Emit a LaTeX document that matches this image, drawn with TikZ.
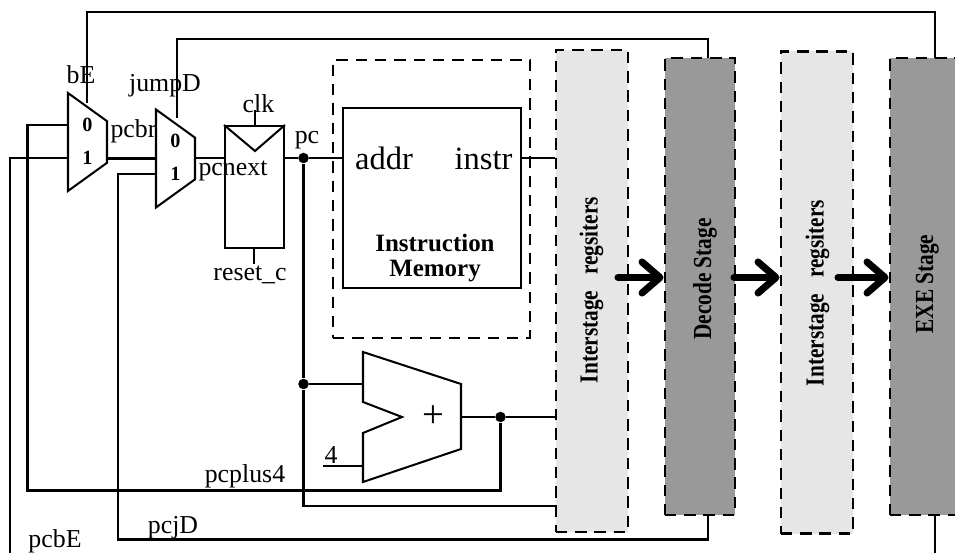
\documentclass[tikz,border=0pt]{standalone}
\usepackage{fontspec}
\setmainfont{Liberation Serif}
\usetikzlibrary{shapes.geometric,arrows.meta,calc}
\definecolor{softgrey}{RGB}{230,230,230}
\definecolor{darkgrey}{RGB}{153,153,153}
\newcommand{\stagelabel}[1]{\scalebox{0.82}[1]{#1}}
\tikzset{
    wire/.style={
        line width=1.15pt
    },
    mux/.style={
        draw,
        line width=1.15pt,
        trapezium,
        trapezium angle=63.4,
        trapezium stretches=true,
        rotate=-90,
        inner sep=0pt,
        outer sep=0pt,
        minimum width=1.96cm,
        minimum height=0.78cm
    },
    muxport/.style={
        font=\fontsize{11.5}{13}\selectfont\bfseries,
        inner sep=0pt
    },
    signal/.style={
        font=\fontsize{14.7}{17}\selectfont,
        inner sep=0pt
    },
    interstage/.style={
        draw,
        dashed,
        dash pattern=on 6.5pt off 4.5pt,
        line width=1.4pt,
        fill=softgrey,
        minimum width=1.45cm,
        minimum height=9.64cm,
        inner sep=0pt
    },
    stagebox/.style={
        draw,
        dashed,
        dash pattern=on 6.5pt off 4.5pt,
        line width=1.4pt,
        fill=darkgrey,
        minimum width=1.41cm,
        minimum height=9.14cm,
        inner sep=0pt
    },
    stagetext/.style={
        rotate=90,
        font=\fontsize{14.8}{17}\selectfont\bfseries,
        inner sep=0pt
    },
    junction/.style={
        circle,
        fill=black,
        inner sep=0pt,
        minimum size=0.21cm
    },
    bigarrow/.style={
        -{Straight Barb[round,length=0.36cm,width=0.62cm]},
        line width=4pt,
        line cap=round
    }
}

\begin{document}
\begin{tikzpicture}

\useasboundingbox (0,0) rectangle (19.1,-11.06);
\clip (0,0) rectangle (19.1,-11.06);

% ============================================================
% STAGE BOXES
% ============================================================

\node[interstage] (regone) at (11.84,-5.82) {};

\node[stagebox] (decode) at (14.0,-5.73) {};

\node[interstage] (regtwo) at (16.34,-5.85) {};

\node[stagebox] (exe) at (18.5,-5.73) {};

\node[stagetext] (regonetext) at (11.83,-5.8)
{\stagelabel{Interstage\ \ \ regsiters}};

\node[stagetext] (decodetext) at (14.1,-5.58)
{\stagelabel{Decode Stage}};

\node[stagetext] (regtwotext) at (16.35,-5.86)
{\stagelabel{Interstage\ \ \ regsiters}};

\node[stagetext] (exetext) at (18.55,-5.68)
{\stagelabel{EXE Stage}};

% ============================================================
% MUXES AND PC REGISTER
% ============================================================

\node[mux] (muxb) at (1.75,-2.84) {\phantom{0}};

\node[mux] (muxj) at (3.51,-3.17) {\phantom{0}};

\node[muxport] (muxbzero) at (1.75,-2.5) {0};
\node[muxport] (muxbone) at (1.75,-3.16) {1};
\node[muxport] (muxjzero) at (3.51,-2.82) {0};
\node[muxport] (muxjone) at (3.51,-3.48) {1};

\node[draw,wire,minimum width=1.18cm,minimum height=2.44cm,inner sep=0pt] (reg) at (5.09,-3.74) {};

\draw[wire] (reg.north west) -- (5.1,-3.02) -- (reg.north east);

% ============================================================
% INSTRUCTION MEMORY
% ============================================================

\node[draw,dashed,dash pattern=on 6.5pt off 4.5pt,line width=1.2pt,minimum width=3.94cm,minimum height=5.56cm] (imemouter) at (8.63,-3.98) {};

\node[draw,wire,minimum width=3.56cm,minimum height=3.6cm] (imem) at (8.64,-3.96) {};

\node[font=\fontsize{18.5}{21}\selectfont,inner sep=0pt] (addr) at (7.68,-3.17) {addr};

\node[font=\fontsize{18.5}{21}\selectfont,inner sep=0pt] (instr) at (9.67,-3.17) {instr};

\node[font=\fontsize{14.2}{14.2}\selectfont\bfseries,align=center,inner sep=0pt] (imemtext) at (8.7,-5.16)
{Instruction\\Memory};

% ============================================================
% ADDER
% ============================================================

\coordinate (addone) at (7.26,-7.04);
\coordinate (addtwo) at (9.22,-7.68);
\coordinate (addthree) at (9.22,-8.98);
\coordinate (addfour) at (7.26,-9.64);
\coordinate (addfive) at (7.26,-8.66);
\coordinate (addsix) at (8.04,-8.34);
\coordinate (addseven) at (7.26,-8.04);

\draw[wire] (addone) -- (addtwo) -- (addthree) -- (addfour) -- (addfive) -- (addsix) -- (addseven) -- cycle;

\node[font=\fontsize{22}{24}\selectfont,inner sep=0pt] (addplus) at (8.66,-8.34) {+};

% ============================================================
% JUNCTIONS AND FREE ENDS
% ============================================================

\node[junction] (pcdot) at (6.07,-3.16) {};
\node[junction] (addin) at (6.07,-7.68) {};
\node[junction] (addout) at (10.01,-8.34) {};

\coordinate (fourend) at (6.46,-9.32);
\coordinate (pcbend) at (0.2,-11.06);
\coordinate (exeend) at (18.7,-11.06);

% ============================================================
% WIRES
% ============================================================

\draw[wire] (muxb.north |- muxj.south) -- (muxj.south);
\draw[wire] (muxj.north |- pcdot) -- (reg.west |- pcdot);
\draw[wire] (reg.east |- pcdot) -- (pcdot);
\draw[wire] (pcdot) -- (imem.west |- pcdot);
\draw[wire] (imem.east |- pcdot) -- (regone.west |- pcdot);
\draw[wire] (pcdot) -- (addin);
\draw[wire] (addin) -- (addin -| addone);
\draw[wire] (fourend) -- (fourend -| addone);
\draw[wire] (addtwo |- addout) -- (addout);
\draw[wire] (addout) -- (regone.west |- addout);

% pc+4 back to the lower inputs
\draw[wire] (addout) |- (0.55,-9.81) |- (muxbzero -| muxb.south);
\draw[wire] (addin) -- (6.07,-10.12) -- (regone.west |- 0,-10.12);

% branch and jump targets
\draw[wire] (pcbend) |- (muxbone -| muxb.south);
\draw[wire] (decode.south -| 14.16,0) -- (14.16,-10.79) -| (2.36,-3.48) -- (muxjone -| muxj.south);

% select lines
\draw[wire] (1.74,-2.06) |- (18.7,-0.24) -- (18.7,-1.16);
\draw[wire] (3.54,-2.36) |- (14.16,-0.78) -- (14.16,-1.16);
\draw[wire] (18.7,-10.3) -- (exeend);

% clock and reset stubs
\draw[wire] (5.1,-2.2) -- (5.1,-2.52);
\draw[wire] (5.08,-4.96) -- (5.08,-5.28);

% ============================================================
% SIGNAL LABELS
% ============================================================

\node[signal] (bE) at (1.62,-1.5) {bE};
\node[signal] (jumpD) at (3.3,-1.71) {jumpD};
\node[signal] (pcbr) at (2.67,-2.63) {pcbr};
\node[signal] (pcnext) at (4.66,-3.42) {pcnext};
\node[signal] (clk) at (5.17,-2.08) {clk};
\node[signal] (resetc) at (5.0,-5.5) {reset\_c};
\node[signal] (pc) at (6.14,-2.8) {pc};
\node[signal] (four) at (6.62,-9.1) {4};
\node[signal] (pcplus) at (4.9,-9.53) {pcplus4};
\node[signal] (pcjD) at (3.46,-10.55) {pcjD};
\node[signal] (pcbE) at (1.1,-10.82) {pcbE};

% ============================================================
% PIPELINE ARROWS
% ============================================================

\coordinate (arrowone) at (12.36,-5.55);
\coordinate (arrowtwo) at (14.68,-5.55);
\coordinate (arrowthree) at (16.76,-5.55);

\draw[bigarrow] (arrowone) -- (decode.west |- arrowone);
\draw[bigarrow] (arrowtwo) -- (regtwo.west |- arrowtwo);
\draw[bigarrow] (arrowthree) -- (exe.west |- arrowthree);

\end{tikzpicture}
\end{document}
